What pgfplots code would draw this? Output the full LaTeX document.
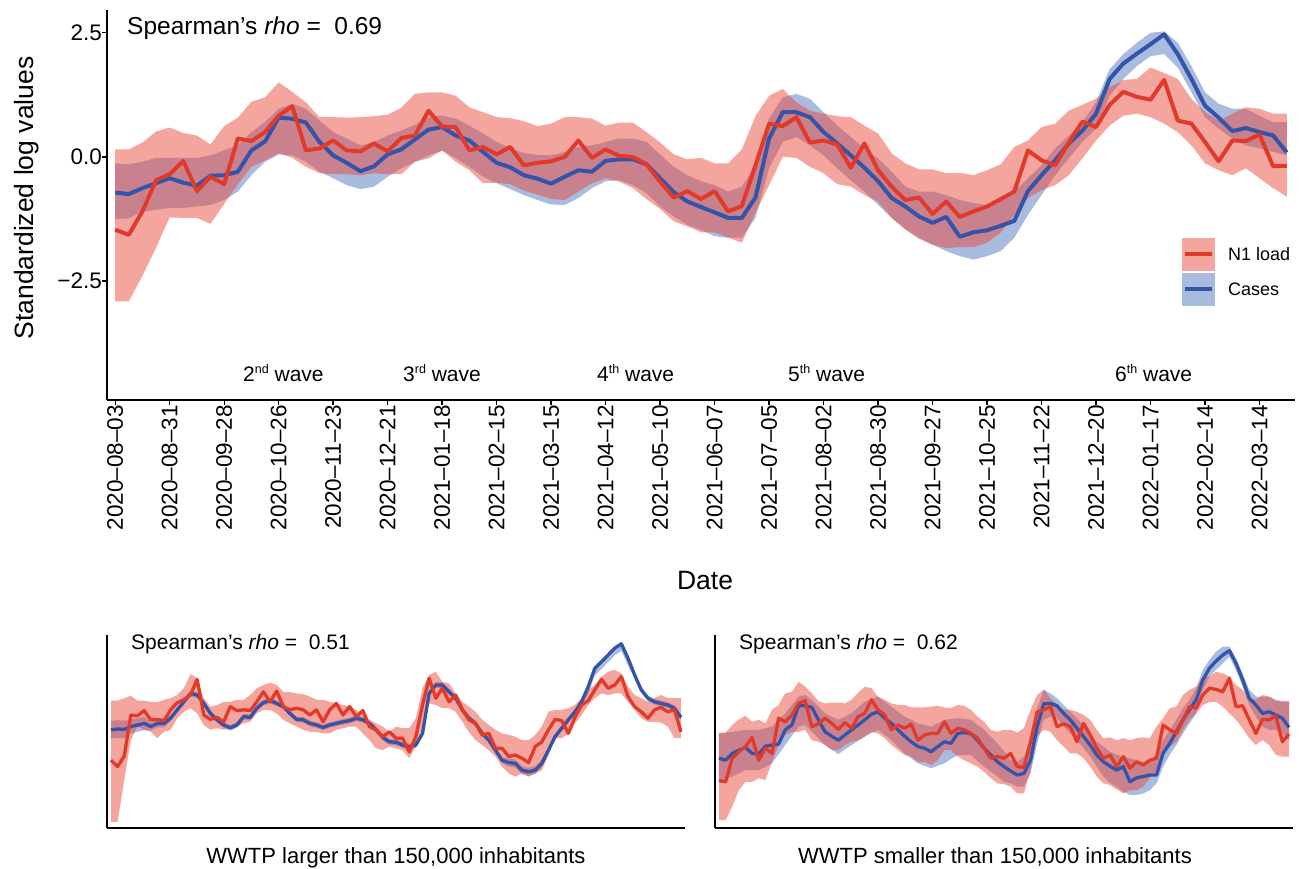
\documentclass[border=0pt]{standalone}
\usepackage{fontspec}
\setmainfont{Liberation Sans}
\usepackage{pgfplots}
\pgfplotsset{compat=1.18}
\usepackage{pgfplotstable}
\usepgfplotslibrary{fillbetween}

\definecolor{redline}{RGB}{226,58,42}
\definecolor{blueline}{RGB}{52,84,170}
\definecolor{redfill}{RGB}{233,75,59}
\definecolor{bluefill}{RGB}{83,119,191}

\newcommand{\fsz}[1]{\fontsize{#1pt}{#1pt}\selectfont}
\newcommand{\sups}[1]{\raisebox{8pt}{\fsz{12.5}#1}}

% weekly values, week 0 = 2020-08-03
% rm/ru/rl = N1 load mean/upper/lower, bm/bu/bl = cases
\pgfplotstableread{
w rm ru rl bm bu bl
0 -1.47 0.15 -2.91 -0.72 -0.13 -1.25
1 -1.57 0.15 -2.91 -0.75 -0.15 -1.24
2 -1.10 0.29 -2.40 -0.63 -0.10 -1.10
3 -0.47 0.51 -1.83 -0.53 -0.02 -1.07
4 -0.35 0.59 -1.22 -0.43 -0.02 -1.03
5 -0.08 0.48 -1.23 -0.52 -0.02 -1.03
6 -0.69 0.43 -1.23 -0.58 -0.02 -1.00
7 -0.40 0.25 -1.35 -0.38 0.03 -0.97
8 -0.55 0.62 -0.95 -0.37 0.13 -0.87
9 0.37 0.79 -0.55 -0.30 0.23 -0.70
10 0.32 1.11 -0.20 0.13 0.50 -0.37
11 0.50 1.20 -0.07 0.31 0.70 -0.10
12 0.83 1.50 0.07 0.79 0.97 0.05
13 1.02 1.31 -0.02 0.77 1.07 0.03
14 0.13 1.10 -0.20 0.69 0.97 -0.10
15 0.17 0.80 -0.33 0.30 0.73 -0.30
16 0.33 0.80 -0.35 0.03 0.50 -0.43
17 0.13 0.79 -0.35 -0.12 0.37 -0.57
18 0.11 0.80 -0.37 -0.29 0.23 -0.65
19 0.27 0.82 -0.33 -0.19 0.30 -0.60
20 0.11 0.85 -0.35 0.05 0.43 -0.40
21 0.38 0.99 -0.35 0.15 0.53 -0.23
22 0.43 1.27 -0.10 0.35 0.65 -0.10
23 0.93 1.30 -0.03 0.55 0.80 0.03
24 0.61 1.30 0.13 0.60 0.83 0.13
25 0.60 1.23 -0.10 0.43 0.77 -0.03
26 0.13 1.00 -0.27 0.33 0.63 -0.20
27 0.20 0.90 -0.53 0.10 0.47 -0.40
28 0.05 0.80 -0.52 -0.12 0.30 -0.53
29 0.20 0.78 -0.55 -0.21 0.18 -0.65
30 -0.17 0.72 -0.68 -0.37 0.08 -0.77
31 -0.12 0.62 -0.76 -0.44 0.04 -0.87
32 -0.09 0.67 -0.85 -0.54 0.03 -0.96
33 0.00 0.80 -0.87 -0.40 0.10 -0.97
34 0.33 0.80 -0.70 -0.27 0.20 -0.83
35 -0.02 0.77 -0.53 -0.30 0.23 -0.63
36 0.15 0.63 -0.43 -0.08 0.30 -0.49
37 0.02 0.69 -0.50 -0.05 0.37 -0.47
38 0.00 0.69 -0.63 -0.05 0.37 -0.57
39 -0.15 0.50 -0.85 -0.15 0.30 -0.73
40 -0.50 0.29 -1.05 -0.43 0.05 -1.00
41 -0.82 0.05 -1.30 -0.71 -0.20 -1.20
42 -0.69 -0.05 -1.40 -0.90 -0.37 -1.37
43 -0.85 -0.02 -1.52 -1.01 -0.49 -1.47
44 -0.69 -0.13 -1.52 -1.12 -0.57 -1.60
45 -1.10 -0.13 -1.63 -1.23 -0.70 -1.63
46 -0.99 0.15 -1.73 -1.23 -0.60 -1.63
47 -0.17 0.82 -1.13 -0.82 -0.17 -1.23
48 0.67 1.23 -0.57 0.37 0.77 -0.23
49 0.62 1.37 0.00 0.90 1.20 0.30
50 0.80 1.10 -0.02 0.90 1.27 0.40
51 0.29 0.93 -0.20 0.80 1.17 0.23
52 0.33 0.87 -0.33 0.50 0.90 0.03
53 0.25 0.82 -0.55 0.27 0.63 -0.23
54 -0.22 0.80 -0.60 0.03 0.40 -0.47
55 0.27 0.63 -0.77 -0.22 0.17 -0.70
56 -0.27 0.47 -0.90 -0.49 -0.03 -0.97
57 -0.60 0.07 -1.23 -0.83 -0.30 -1.23
58 -0.87 -0.13 -1.47 -1.00 -0.60 -1.45
59 -0.82 -0.25 -1.65 -1.20 -0.70 -1.63
60 -1.15 -0.25 -1.77 -1.33 -0.70 -1.77
61 -0.90 -0.33 -1.84 -1.21 -0.77 -1.90
62 -1.21 -0.32 -1.82 -1.61 -0.87 -2.00
63 -1.10 -0.37 -1.82 -1.52 -0.93 -2.07
64 -1.00 -0.27 -1.73 -1.48 -0.97 -2.00
65 -0.85 -0.15 -1.53 -1.39 -0.83 -1.90
66 -0.70 0.20 -1.17 -1.29 -0.70 -1.63
67 0.13 0.33 -0.83 -0.69 -0.43 -1.17
68 -0.07 0.60 -0.67 -0.37 -0.17 -0.77
69 -0.17 0.67 -0.57 -0.07 0.17 -0.37
70 0.29 0.93 -0.37 0.27 0.43 -0.03
71 0.71 1.05 -0.03 0.53 0.70 0.30
72 0.60 1.17 0.33 0.87 1.10 0.57
73 1.05 1.40 0.63 1.57 1.77 1.23
74 1.31 1.55 0.83 1.88 2.07 1.57
75 1.21 1.57 0.87 2.08 2.30 1.83
76 1.15 1.80 0.80 2.27 2.50 2.03
77 1.55 1.69 0.67 2.47 2.53 2.07
78 0.73 1.57 0.50 2.07 2.30 1.80
79 0.67 1.17 0.23 1.57 1.83 1.30
80 0.30 0.90 -0.13 1.03 1.30 0.80
81 -0.09 0.73 -0.27 0.79 1.07 0.57
82 0.33 0.87 -0.37 0.52 0.97 0.37
83 0.32 1.00 -0.23 0.58 0.97 0.23
84 0.45 0.97 -0.43 0.50 0.83 0.17
85 -0.19 0.87 -0.63 0.43 0.70 0.10
86 -0.18 0.87 -0.80 0.09 0.70 0.03
}\alltab

% WWTP larger than 150,000 inhabitants
\pgfplotstableread{
w rm ru rl bm bu bl
0 -0.63 0.86 -2.17 0.13 0.35 -0.09
1 -0.79 0.86 -2.17 0.15 0.37 -0.07
2 -0.53 0.92 -1.13 0.14 0.36 -0.08
3 0.50 0.98 -0.13 0.21 0.38 0.04
4 0.48 0.86 0.21 0.25 0.42 0.08
5 0.61 0.86 0.13 0.29 0.46 0.12
6 0.38 0.83 0.08 0.21 0.31 0.11
7 0.39 0.82 -0.08 0.29 0.39 0.19
8 0.36 0.88 0.08 0.29 0.39 0.19
9 0.63 0.92 0.13 0.42 0.49 0.35
10 0.81 1.00 0.42 0.63 0.70 0.56
11 0.88 1.17 0.58 0.83 0.90 0.76
12 1.00 1.52 0.67 1.04 1.11 0.97
13 1.39 1.42 0.54 1.00 1.07 0.93
14 0.50 0.92 0.25 0.79 0.86 0.72
15 0.39 0.71 0.13 0.54 0.61 0.47
16 0.44 0.75 0.17 0.38 0.45 0.31
17 0.33 0.83 0.13 0.25 0.32 0.18
18 0.71 0.83 0.17 0.18 0.25 0.11
19 0.61 0.88 0.21 0.25 0.32 0.18
20 0.63 0.88 0.29 0.46 0.53 0.39
21 0.61 1.00 0.33 0.44 0.51 0.37
22 0.83 1.17 0.54 0.67 0.74 0.60
23 1.08 1.25 0.63 0.81 0.88 0.74
24 0.83 1.31 0.63 0.86 0.93 0.79
25 1.10 1.25 0.54 0.79 0.86 0.72
26 0.71 1.08 0.38 0.71 0.78 0.64
27 0.63 1.07 0.29 0.54 0.61 0.47
28 0.67 1.04 0.21 0.39 0.46 0.32
29 0.63 1.02 0.13 0.38 0.45 0.31
30 0.50 0.96 0.08 0.29 0.36 0.22
31 0.63 0.88 0.08 0.25 0.32 0.18
32 0.33 0.88 0.04 0.19 0.26 0.12
33 0.63 0.83 0.04 0.25 0.32 0.18
34 0.79 0.79 0.13 0.29 0.36 0.22
35 0.50 0.75 0.17 0.33 0.40 0.26
36 0.71 0.71 0.21 0.36 0.43 0.29
37 0.46 0.63 0.21 0.42 0.49 0.35
38 0.61 0.50 0.04 0.38 0.45 0.31
39 0.21 0.38 -0.13 0.29 0.36 0.22
40 0.13 0.29 -0.33 0.13 0.20 0.06
41 -0.04 0.21 -0.38 -0.06 0.01 -0.13
42 0.08 0.08 -0.29 -0.17 -0.10 -0.24
43 -0.08 0.21 -0.33 -0.18 -0.11 -0.25
44 -0.08 0.17 -0.38 -0.25 -0.18 -0.32
45 -0.42 0.17 -0.58 -0.29 -0.22 -0.36
46 -0.04 0.42 -0.29 -0.25 -0.18 -0.32
47 0.75 1.17 0.21 0.04 0.11 -0.03
48 1.42 1.50 0.79 1.04 1.11 0.97
49 0.92 1.58 0.75 1.25 1.32 1.18
50 1.17 1.33 0.67 1.25 1.32 1.18
51 0.83 1.29 0.67 1.08 1.15 1.01
52 1.00 1.04 0.58 0.92 0.99 0.85
53 0.63 0.83 0.33 0.63 0.70 0.56
54 0.38 0.71 0.08 0.42 0.49 0.35
55 0.29 0.58 -0.13 0.29 0.36 0.22
56 0.00 0.38 -0.25 0.04 0.11 -0.03
57 0.04 0.25 -0.38 -0.13 -0.06 -0.20
58 -0.33 0.13 -0.54 -0.38 -0.31 -0.45
59 -0.33 0.04 -0.79 -0.63 -0.56 -0.70
60 -0.54 0.00 -0.96 -0.69 -0.59 -0.79
61 -0.50 -0.04 -1.04 -0.71 -0.61 -0.81
62 -0.58 -0.13 -0.96 -0.88 -0.78 -0.98
63 -0.69 -0.13 -1.04 -0.92 -0.82 -1.02
64 -0.29 0.00 -0.96 -0.88 -0.78 -0.98
65 -0.17 0.21 -0.88 -0.71 -0.61 -0.81
66 0.13 0.58 -0.50 -0.38 -0.31 -0.45
67 0.39 0.63 -0.08 -0.04 0.03 -0.11
68 0.36 0.63 -0.08 0.17 0.24 0.10
69 0.04 0.67 0.04 0.38 0.45 0.31
70 0.44 0.75 0.29 0.58 0.65 0.51
71 0.75 0.92 0.50 0.83 0.90 0.76
72 0.86 1.13 0.75 1.21 1.26 1.03
73 1.13 1.25 0.92 1.67 1.72 1.49
74 1.39 1.46 1.04 1.83 1.88 1.65
75 1.17 1.58 1.00 2.00 2.05 1.82
76 1.25 1.63 1.04 2.17 2.22 1.99
77 1.46 1.54 1.04 2.28 2.33 2.10
78 0.96 1.21 0.83 1.92 1.97 1.74
79 0.71 1.00 0.63 1.50 1.57 1.43
80 0.58 0.92 0.42 1.13 1.20 1.06
81 0.42 0.83 0.33 0.92 0.99 0.85
82 0.63 0.92 0.33 0.83 0.90 0.76
83 0.69 1.00 0.31 0.79 0.86 0.72
84 0.58 0.92 0.21 0.75 0.82 0.68
85 0.63 0.92 -0.08 0.67 0.74 0.60
86 0.08 0.92 -0.08 0.44 0.51 0.37
}\largetab

% WWTP smaller than 150,000 inhabitants
\pgfplotstableread{
w rm ru rl bm bu bl
0 -1.14 0.06 -2.13 -0.58 0.04 -1.17
1 -1.17 0.06 -2.13 -0.63 0.06 -1.10
2 -0.58 0.25 -1.79 -0.46 0.08 -1.04
3 -0.42 0.39 -1.38 -0.38 0.10 -0.96
4 -0.29 0.48 -1.17 -0.31 0.13 -0.88
5 -0.06 0.33 -1.17 -0.46 0.13 -0.88
6 -0.63 0.38 -1.08 -0.48 0.13 -0.88
7 -0.33 0.29 -1.13 -0.28 0.17 -0.80
8 -0.46 0.63 -0.67 -0.25 0.21 -0.71
9 0.42 0.75 -0.25 -0.23 0.38 -0.48
10 0.33 1.04 0.00 0.13 0.54 -0.25
11 0.50 1.08 0.08 0.25 0.75 -0.02
12 0.79 1.33 0.08 0.73 0.96 0.21
13 0.86 1.21 0.13 0.73 1.00 0.25
14 0.21 1.04 -0.13 0.69 0.88 0.08
15 0.28 0.85 -0.17 0.38 0.71 -0.08
16 0.42 0.79 -0.25 0.08 0.54 -0.25
17 0.29 0.81 -0.38 -0.03 0.46 -0.36
18 0.14 0.81 -0.38 -0.13 0.38 -0.48
19 0.31 0.79 -0.25 0.00 0.46 -0.36
20 0.17 0.88 -0.17 0.13 0.54 -0.25
21 0.46 1.06 -0.13 0.25 0.69 -0.15
22 0.54 1.21 -0.04 0.38 0.83 -0.04
23 0.88 1.17 0.08 0.52 0.90 0.05
24 0.63 0.96 0.04 0.58 0.96 0.13
25 0.50 0.88 -0.08 0.42 0.83 0.00
26 0.13 0.79 -0.25 0.29 0.71 -0.13
27 0.25 0.75 -0.38 0.13 0.58 -0.30
28 0.17 0.75 -0.50 -0.03 0.46 -0.46
29 0.27 0.69 -0.54 -0.17 0.38 -0.58
30 -0.13 0.69 -0.67 -0.29 0.29 -0.71
31 0.00 0.69 -0.67 -0.33 0.25 -0.77
32 0.04 0.71 -0.75 -0.42 0.21 -0.83
33 0.04 0.73 -0.63 -0.29 0.29 -0.77
34 0.33 0.69 -0.38 -0.17 0.38 -0.71
35 0.04 0.67 -0.38 -0.21 0.40 -0.60
36 0.17 0.75 -0.54 0.04 0.42 -0.50
37 0.13 0.73 -0.63 0.06 0.40 -0.50
38 0.04 0.63 -0.71 0.03 0.38 -0.50
39 -0.08 0.46 -0.79 -0.13 0.25 -0.65
40 -0.33 0.33 -0.92 -0.33 0.13 -0.79
41 -0.58 0.13 -1.08 -0.50 -0.04 -0.92
42 -0.54 0.08 -1.21 -0.67 -0.21 -1.04
43 -0.58 0.13 -1.23 -0.79 -0.40 -1.17
44 -0.46 0.13 -1.29 -0.90 -0.63 -1.21
45 -0.79 0.06 -1.46 -1.00 -0.67 -1.29
46 -0.81 0.17 -1.46 -0.96 -0.54 -1.29
47 -0.17 0.63 -0.88 -0.63 -0.13 -0.96
48 0.58 1.00 -0.04 0.21 0.67 -0.21
49 0.63 1.14 0.13 0.78 1.13 0.38
50 0.71 0.92 0.08 0.79 1.04 0.46
51 0.21 0.75 -0.13 0.73 0.92 0.42
52 0.28 0.63 -0.29 0.54 0.75 0.21
53 0.21 0.63 -0.46 0.38 0.58 0.04
54 -0.17 0.58 -0.46 0.17 0.42 -0.13
55 0.29 0.50 -0.58 -0.04 0.25 -0.33
56 0.00 0.38 -0.79 -0.25 0.04 -0.54
57 -0.33 0.13 -1.04 -0.50 -0.17 -0.79
58 -0.58 -0.08 -1.21 -0.67 -0.29 -1.04
59 -0.50 -0.06 -1.25 -0.78 -0.42 -1.21
60 -0.79 -0.13 -1.36 -0.88 -0.50 -1.29
61 -0.54 -0.08 -1.46 -0.79 -0.54 -1.42
62 -0.83 -0.13 -1.38 -1.17 -0.58 -1.50
63 -0.67 -0.08 -1.38 -1.07 -0.63 -1.50
64 -0.75 -0.06 -1.29 -1.04 -0.67 -1.46
65 -0.63 -0.08 -1.08 -1.00 -0.67 -1.38
66 -0.58 0.21 -0.88 -1.00 -0.46 -1.21
67 0.25 0.42 -0.50 -0.46 -0.13 -0.79
68 0.13 0.67 -0.29 -0.21 0.13 -0.50
69 0.04 0.71 -0.17 0.08 0.38 -0.25
70 0.38 1.00 0.13 0.38 0.67 0.04
71 0.71 1.13 0.38 0.64 0.88 0.29
72 0.67 1.21 0.54 0.88 1.17 0.54
73 1.00 1.46 0.75 1.38 1.63 1.13
74 1.17 1.46 0.83 1.67 1.88 1.46
75 1.14 1.58 0.83 1.85 2.08 1.63
76 1.08 1.54 0.71 2.00 2.21 1.79
77 1.42 1.46 0.54 2.11 2.21 1.96
78 0.71 1.25 0.38 1.79 1.92 1.63
79 0.73 1.13 0.17 1.38 1.54 1.21
80 0.38 0.92 -0.08 0.92 1.13 0.75
81 0.04 0.88 -0.25 0.75 0.96 0.46
82 0.39 1.00 -0.13 0.54 0.96 0.21
83 0.38 0.96 -0.25 0.58 0.96 0.13
84 0.48 0.85 -0.50 0.50 0.88 0.13
85 -0.17 0.85 -0.54 0.42 0.83 0.04
86 0.02 0.85 -0.54 0.19 0.83 -0.13
}\smalltab

% bands first (cases under N1 load), then the two lines
\newcommand{\bands}[2]{%
  \addplot[draw=none, forget plot, name path=bu] table[x=w, y=bu] {#1};
  \addplot[draw=none, forget plot, name path=bl] table[x=w, y=bl] {#1};
  \addplot[draw=none, forget plot, name path=ru] table[x=w, y=ru] {#1};
  \addplot[draw=none, forget plot, name path=rl] table[x=w, y=rl] {#1};
  \addplot[fill=bluefill, fill opacity=0.5, draw=none, forget plot] fill between[of=bu and bl];
  \addplot[fill=redfill, fill opacity=0.5, draw=none, forget plot] fill between[of=ru and rl];
  \addplot[blueline, line width=#2, line join=round, forget plot] table[x=w, y=bm] {#1};
  \addplot[redline, line width=#2, line join=round, forget plot] table[x=w, y=rm] {#1};
}

\pgfplotsset{
  panel/.style={
    scale only axis, anchor=south west,
    axis lines=left, axis line style={-, line width=1.3pt, black},
    xmin=-0.6, xmax=86.6,
  },
}

\begin{document}
\begin{tikzpicture}

\begin{axis}[panel,
  at={(107pt,468pt)}, width=1188pt, height=390pt,
  ymin=-4.9, ymax=2.96,
  xtick={0,4,...,84},
  xticklabels={2020–08–03,2020–08–31,2020–09–28,2020–10–26,2020–11–23,2020–12–21,
    2021–01–18,2021–02–15,2021–03–15,2021–04–12,2021–05–10,2021–06–07,2021–07–05,
    2021–08–02,2021–08–30,2021–09–27,2021–10–25,2021–11–22,2021–12–20,2022–01–17,
    2022–02–14,2022–03–14},
  ytick={-2.5,0,2.5}, yticklabels={−2.5,0.0,2.5},
  tick align=outside, major tick length=5pt,
  tick style={line width=1.3pt, black},
  xticklabel style={rotate=90, anchor=east, inner sep=0pt, font=\fsz{22.5}},
  yticklabel style={anchor=east, inner sep=0pt, font=\fsz{22.5}},
]
\bands{\alltab}{4pt}
\end{axis}

\begin{axis}[panel,
  at={(107pt,40pt)}, width=578pt, height=193pt,
  ymin=-2.325, ymax=2.5, xtick=\empty, ytick=\empty,
]
\bands{\largetab}{3.3pt}
\end{axis}

\begin{axis}[panel,
  at={(715pt,40pt)}, width=578pt, height=193pt,
  ymin=-2.325, ymax=2.5, xtick=\empty, ytick=\empty,
]
\bands{\smalltab}{3.3pt}
\end{axis}

% legend keys
\fill[redfill, fill opacity=0.5] (1182pt,597pt) rectangle (1215pt,630pt);
\draw[redline, line width=4pt] (1185pt,613.5pt) -- (1212pt,613.5pt);
\fill[bluefill, fill opacity=0.5] (1182pt,562pt) rectangle (1215pt,595pt);
\draw[blueline, line width=4pt] (1185pt,578.5pt) -- (1212pt,578.5pt);
\node[anchor=base west, inner sep=0pt, font=\fsz{18}] at (1228pt,607pt) {N1 load};
\node[anchor=base west, inner sep=0pt, font=\fsz{18}] at (1228pt,572pt) {Cases};

% texts
\node[anchor=base west, inner sep=0pt, font=\fsz{24.5}] at (127pt,833.7pt)
  {Spearman’s \textit{rho} =\ \ 0.69};
\node[anchor=base west, inner sep=0pt, font=\fsz{21}] at (131pt,218pt)
  {Spearman’s \textit{rho} =\ \ 0.51};
\node[anchor=base west, inner sep=0pt, font=\fsz{21}] at (739pt,218pt)
  {Spearman’s \textit{rho} =\ \ 0.62};

\foreach \xx/\nn/\ss in {243/2/nd, 403/3/rd, 597/4/th, 788/5/th, 1115/6/th}
  \node[anchor=base west, inner sep=0pt, font=\fsz{21}] at (\xx pt,486.3pt) {\nn\sups{\ss} wave};

\node[rotate=90, anchor=base, inner sep=0pt, font=\fsz{26.5}] at (33pt,670pt) {Standardized log values};
\node[anchor=base, inner sep=0pt, font=\fsz{26.5}] at (705pt,278pt) {Date};
\node[anchor=base, inner sep=0pt, font=\fsz{22}] at (396pt,4pt) {WWTP larger than 150,000 inhabitants};
\node[anchor=base, inner sep=0pt, font=\fsz{22}] at (995pt,4pt) {WWTP smaller than 150,000 inhabitants};

\path[use as bounding box] (0pt,0pt) rectangle (1304pt,868pt);
\end{tikzpicture}
\end{document}
